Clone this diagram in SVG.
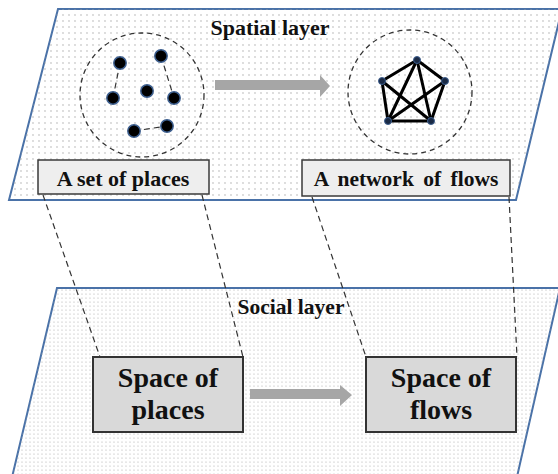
<svg xmlns="http://www.w3.org/2000/svg" width="558" height="474" viewBox="0 0 558 474">
<defs>
<pattern id="dotsTop" width="6" height="6" patternUnits="userSpaceOnUse">
<circle cx="3" cy="3" r="0.65" fill="#a0a0a0"/>
</pattern>
<pattern id="dotsBot" width="4" height="4" patternUnits="userSpaceOnUse">
<circle cx="2" cy="2" r="0.6" fill="#a8a8a8"/>
</pattern>
<style>
.layer{stroke:#4a72a8;stroke-width:2}
.t{font-family:"Liberation Serif","Times New Roman",serif;font-weight:bold;fill:#111;text-anchor:middle}
.lbl{fill:#eeeeee;stroke:#3a3a3a;stroke-width:1.5}
.box{fill:#d9d9d9;stroke:#333;stroke-width:2}
.conn{fill:none;stroke:#333;stroke-width:1.2;stroke-dasharray:6 4}
.ring{fill:none;stroke:#333;stroke-width:1.3;stroke-dasharray:5 4}
.dot{fill:#000;stroke:#3d5f8f;stroke-width:1.5}
.ndot{fill:#1a2a45;stroke:#3d5f8f;stroke-width:1}
.edge{stroke:#000;stroke-width:3;stroke-linecap:round}
.arr{fill:#a6a6a6}
</style>
</defs>
<rect width="558" height="474" fill="#fff"/>

<g id="spatial-layer">
<polygon class="layer" points="58,9 562,9 516,200 9,200" fill="#fff"/>
<polygon points="58,9 562,9 516,200 9,200" fill="url(#dotsTop)"/>
<text class="t" x="270" y="35" font-size="22">Spatial layer</text>
</g>

<g id="social-layer">
<polygon class="layer" points="57,288 560,288 514,490 9,490" fill="#fff"/>
<polygon points="57,288 560,288 514,490 9,490" fill="url(#dotsBot)"/>
<text class="t" x="291" y="314" font-size="21.5">Social layer</text>
</g>

<g id="connectors">
<line class="conn" x1="43" y1="195" x2="100" y2="357"/>
<line class="conn" x1="202" y1="195" x2="243" y2="357"/>
<line class="conn" x1="312" y1="197" x2="366" y2="357"/>
<line class="conn" x1="509" y1="197" x2="517" y2="357"/>
<polygon class="arr" points="215,80 320,80 320,75 330,86 320,97 320,90 215,90"/>
<polygon class="arr" points="250,389 340,389 340,385 352,395 340,406 340,399 250,399"/>
</g>

<g id="set-of-places">
<circle class="ring" cx="142" cy="95" r="62"/>
<line class="conn" x1="120" y1="63" x2="113" y2="98"/>
<line class="conn" x1="161" y1="56" x2="174" y2="98"/>
<line class="conn" x1="134" y1="131" x2="167" y2="126"/>
<circle class="dot" cx="120" cy="63" r="6.2"/>
<circle class="dot" cx="161" cy="56" r="6.2"/>
<circle class="dot" cx="113" cy="98" r="6.2"/>
<circle class="dot" cx="147" cy="91" r="6.2"/>
<circle class="dot" cx="174" cy="98" r="6.2"/>
<circle class="dot" cx="134" cy="131" r="6.2"/>
<circle class="dot" cx="167" cy="126" r="6.2"/>
</g>

<g id="network-of-flows">
<circle class="ring" cx="410" cy="92" r="62"/>
<line class="edge" x1="417" y1="60" x2="382" y2="81"/>
<line class="edge" x1="417" y1="60" x2="445" y2="81"/>
<line class="edge" x1="382" y1="81" x2="388" y2="121"/>
<line class="edge" x1="445" y1="81" x2="431" y2="121"/>
<line class="edge" x1="388" y1="121" x2="431" y2="121"/>
<line class="edge" x1="417" y1="60" x2="388" y2="121"/>
<line class="edge" x1="417" y1="60" x2="431" y2="121"/>
<line class="edge" x1="382" y1="81" x2="431" y2="121"/>
<line class="edge" x1="445" y1="81" x2="388" y2="121"/>
<circle class="ndot" cx="417" cy="60" r="3.5"/>
<circle class="ndot" cx="382" cy="81" r="3.5"/>
<circle class="ndot" cx="445" cy="81" r="3.5"/>
<circle class="ndot" cx="388" cy="121" r="3.5"/>
<circle class="ndot" cx="431" cy="121" r="3.5"/>
</g>

<g id="label-set-of-places">
<rect class="lbl" x="38" y="160" width="171" height="34"/>
<text class="t" x="123" y="186" font-size="22">A set of places</text>
</g>

<g id="label-network-of-flows">
<rect class="lbl" x="302" y="160" width="208" height="36"/>
<text class="t" x="406" y="186" font-size="21.5" word-spacing="4">A network of flows</text>
</g>

<g id="space-of-places">
<rect class="box" x="93" y="357" width="150" height="75"/>
<text class="t" x="168" y="387" font-size="28">Space of</text>
<text class="t" x="168" y="419" font-size="28">places</text>
</g>

<g id="space-of-flows">
<rect class="box" x="366" y="357" width="150" height="75"/>
<text class="t" x="441" y="387" font-size="28">Space of</text>
<text class="t" x="441" y="419" font-size="28">flows</text>
</g>
</svg>
